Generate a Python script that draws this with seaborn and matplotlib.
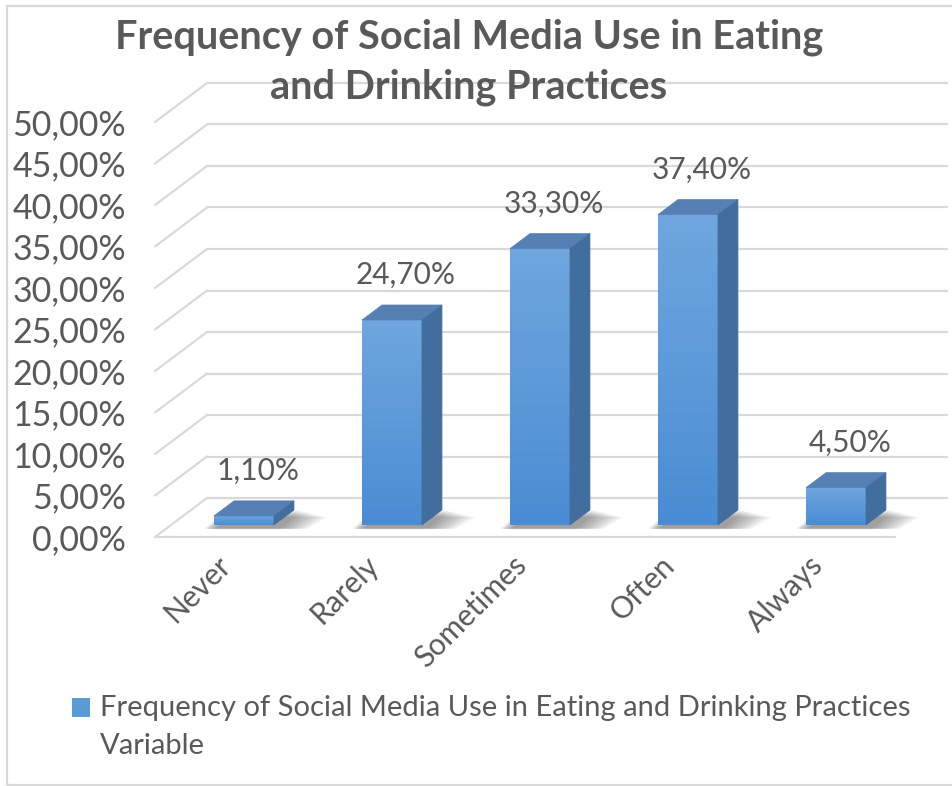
import numpy as np
import pandas as pd
import matplotlib
matplotlib.use("Agg")
import matplotlib.pyplot as plt
import seaborn as sns
from matplotlib.patches import Polygon, Rectangle
from matplotlib.transforms import ScaledTranslation
from matplotlib.legend_handler import HandlerPatch

categories = ["Never", "Rarely", "Sometimes", "Often", "Always"]
values = [1.10, 24.70, 33.30, 37.40, 4.50]
yticks = [0, 5, 10, 15, 20, 25, 30, 35, 40, 45, 50]
title = "Frequency of Social Media Use in Eating\nand Drinking Practices"
legend_label = "Frequency of Social Media Use in Eating and Drinking Practices\nVariable"

sns.set_theme(style="white")
FONT = "Lato"
plt.rcParams["font.family"] = [FONT, "DejaVu Sans"]
TXT = "#595959"
GRID = "#D9D9D9"

W, H = 953, 786
fig = plt.figure(figsize=(W / 100, H / 100), dpi=100)
# front plane of the 3D box, in pixels
L, R, B, T = 155, 895, 537, 122
ax = fig.add_axes([L / W, (H - B) / H, (R - L) / W, (B - T) / H])
ax.set_xlim(-0.5, len(categories) - 0.5)
ax.set_ylim(0, 50)
ax.patch.set_alpha(0)
for s in ax.spines.values():
    s.set_visible(False)

df = pd.DataFrame({"cat": categories, "val": values})
sns.barplot(data=df, x="cat", y="val", ax=ax, width=0.405, color="#5B9BD5",
            saturation=1, label=legend_label, zorder=3)
if ax.get_legend() is not None:
    ax.get_legend().remove()
ax.set_xlim(-0.5, len(categories) - 0.5)
ax.set_ylim(0, 50)


def px2data(dxp, dyp):
    inv = ax.transData.inverted()
    p0 = inv.transform((0, 0))
    p1 = inv.transform((dxp, dyp))
    return p1 - p0

# wall depth
wdx, wdy = px2data(52, 39)
x0, x1 = ax.get_xlim()
for t in yticks:
    ax.plot([x0, x0 + wdx], [t, t + wdy], color=GRID, lw=1.6, clip_on=False, zorder=1)
    ax.plot([x0 + wdx, x1 + wdx], [t + wdy, t + wdy], color=GRID, lw=1.6, clip_on=False, zorder=1)
ax.plot([x0, x1], [0, 0], color=GRID, lw=1.6, clip_on=False, zorder=1)

# bar 3D geometry
off = ax.transData + ScaledTranslation(15 / 100, 12 / 100, fig.dpi_scale_trans)
lbl_off = off + ScaledTranslation(0, 45 / 100, fig.dpi_scale_trans)
bdx, bdy = px2data(20, 15)
sdx, sdy = px2data(34, 0)
grad = np.linspace(0, 1, 256).reshape(-1, 1)
cmap = matplotlib.colors.LinearSegmentedColormap.from_list("g", ["#4A8CD3", "#6FA7DE"])
bar_patches = list(ax.patches)
for p in bar_patches:
    bx, bw, bh = p.get_x(), p.get_width(), p.get_height()
    p.set_transform(off)
    p.set_clip_on(False)
    p.set_edgecolor("none")
    # soft shadow on floor
    for k in range(8):
        ex = sdx * (0.2 + 0.11 * k)
        lx = -sdx * 0.04 * (7 - k)
        hy = bdy * (0.95 - 0.06 * k)
        shp = Polygon([(bx + lx, -bdy * 0.25), (bx + bw + ex, -bdy * 0.25),
                       (bx + bw + bdx + ex, hy), (bx + bdx + lx, hy)],
                      closed=True, facecolor="#303030", alpha=0.07, edgecolor="none",
                      transform=off, clip_on=False, zorder=2)
        ax.add_patch(shp)
    img = ax.imshow(grad, extent=[bx, bx + bw, 0, bh], origin="lower", cmap=cmap,
                    aspect="auto", zorder=3.5, transform=off, clip_on=False)
    img.set_clip_path(p)
    top = Polygon([(bx, bh), (bx + bw, bh), (bx + bw + bdx, bh + bdy), (bx + bdx, bh + bdy)],
                  closed=True, facecolor="#5680B3", edgecolor="#5680B3", lw=0.5,
                  transform=off, clip_on=False, zorder=4)
    side = Polygon([(bx + bw, 0), (bx + bw + bdx, bdy), (bx + bw + bdx, bh + bdy), (bx + bw, bh)],
                   closed=True, facecolor="#426E9F", edgecolor="#426E9F", lw=0.5,
                   transform=off, clip_on=False, zorder=4)
    ax.add_patch(top)
    ax.add_patch(side)
    lbl = f"{bh:.2f}".replace(".", ",") + "%"
    ax.text(bx + bw / 2 + bdx * 0.7, bh, lbl, transform=lbl_off, ha="center", va="center",
            fontsize=21.5, color=TXT, zorder=5)
ax.set_xlim(x0, x1)
ax.set_ylim(0, 50)

# ticks
ax.set_yticks(yticks)
ax.set_yticklabels([f"{t:.2f}".replace(".", ",") + "%" for t in yticks], fontsize=24.5, color=TXT)
ax.set_xticks(range(len(categories)))
ax.set_xticklabels(categories, rotation=45, ha="right", fontsize=21.5, color=TXT)
ax.tick_params(axis="y", length=0, pad=21)
ax.tick_params(axis="x", length=0, pad=10)
for lab in ax.get_xticklabels():
    lab.set_transform(lab.get_transform() + ScaledTranslation(7 / 100, 0, fig.dpi_scale_trans))
ax.set_xlabel("")
ax.set_ylabel("")
ax.grid(False)

fig.text(469 / W, 1 - 62 / H, title, ha="center", va="center", fontsize=28.5, fontweight="bold",
         color=TXT, linespacing=1.4)


def top_square(legend, orig_handle, xdescent, ydescent, width, height, fontsize):
    return Rectangle((-xdescent, -ydescent + 14), width, height)


proxy = Rectangle((0, 0), 1, 1, facecolor="#5B9BD5", edgecolor="none")
leg = fig.legend([proxy], [legend_label], loc="upper left", bbox_to_anchor=(72 / W, 1 - 695 / H),
                 frameon=False, fontsize=21, labelcolor=TXT, handlelength=0.62,
                 handleheight=0.62, handletextpad=0.35, borderpad=0, borderaxespad=0,
                 handler_map={Rectangle: HandlerPatch(patch_func=top_square)})
for t in leg.get_texts():
    t.set_linespacing(1.55)

fig.add_artist(Rectangle((7 / W, 1 / H), 1.2, (H - 7) / H, transform=fig.transFigure,
                         fill=False, edgecolor=GRID, lw=1.6))

fig.savefig("out.png", dpi=100)
